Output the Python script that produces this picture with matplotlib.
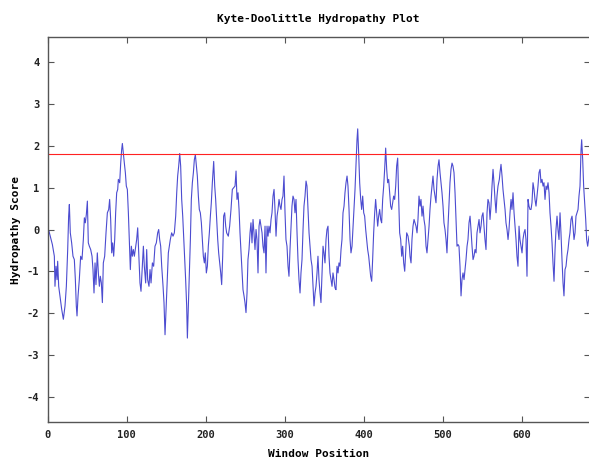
import matplotlib
matplotlib.use("Agg")
import matplotlib.pyplot as plt

# Window position (x) and hydropathy score (y)
window = [
    1.6, 5.9, 8.4, 9.2, 10.5, 11.8, 12.6, 13.9, 16.0, 17.7, 19.8, 21.9, 23.6, 25.3, 26.5, 27.4,
    28.6, 30.3, 32.0, 33.7, 35.0, 36.2, 37.1, 38.4, 40.0, 41.7, 43.4, 45.1, 46.4, 47.6, 48.9, 50.2,
    51.4, 52.7, 54.4, 56.1, 57.3, 58.6, 59.9, 61.1, 62.8, 64.1, 65.4, 66.6, 67.9, 69.2, 70.4, 72.1,
    73.8, 75.5, 77.2, 78.4, 79.7, 81.0, 82.2, 83.5, 84.8, 86.0, 87.3, 88.6, 89.4, 91.1, 92.4, 93.6,
    94.5, 95.7, 97.0, 98.3, 99.5, 100.8, 102.1, 103.3, 104.6, 105.9, 107.1, 108.4, 109.7, 111.4,
    # 112 - 227
    112.6, 113.9, 115.6, 116.8, 118.1, 119.8, 121.1, 122.3, 124.0, 125.3, 126.5, 128.2, 129.5, 130.8,
    132.5, 134.1, 135.8, 137.5, 139.2, 140.5, 141.7, 143.0, 144.3, 146.0, 147.2, 148.5, 149.7, 151.0,
    152.7, 154.0, 155.2, 156.9, 158.6, 160.3, 162.0, 163.3, 164.5, 165.8, 167.1, 168.3, 169.6, 170.9,
    172.1, 173.4, 174.6, 175.9, 176.8, 178.0, 179.3, 180.6, 181.8, 183.1, 184.4, 185.6, 186.9, 188.2,
    189.4, 190.7, 191.9, 193.2, 194.5, 195.7, 197.0, 198.3, 199.5, 200.8, 202.1, 203.3, 204.6, 205.9,
    207.1, 208.4, 210.1, 211.4, 212.6, 213.9, 215.2, 216.4, 217.7, 219.0, 220.2, 221.5, 222.7, 224.0,
    225.3, 226.5,
    # 228 - 341
    228.6, 230.3, 232.0, 233.7, 235.4, 237.1, 238.4, 239.6, 240.9, 242.2, 243.4, 244.7, 245.9, 247.2,
    248.5, 249.7, 251.0, 252.3, 253.5, 254.8, 256.1, 257.3, 258.6, 259.9, 261.1, 262.4, 263.7, 264.9,
    266.2, 267.5, 268.7, 270.0, 271.3, 272.5, 273.8, 275.1, 276.3, 277.6, 278.9, 280.1, 281.4, 282.7,
    283.9, 285.2, 286.5, 287.7, 289.0, 290.3, 291.5, 292.8, 294.1, 295.3, 296.6, 297.8, 299.1, 300.4,
    301.6, 302.9, 304.2, 305.4, 306.7, 308.0, 309.2, 310.5, 311.8, 313.0, 314.3, 315.6, 316.8, 318.1,
    319.4, 320.6, 321.9, 323.2, 324.4, 325.7, 327.0, 328.2, 329.5, 330.8, 332.0, 333.3, 334.6, 335.8,
    337.1, 338.4, 339.6, 340.9,
    # 342 - 458
    342.1, 343.4, 344.7, 345.9, 347.2, 348.5, 349.7, 351.0, 352.3, 353.5, 354.8, 356.1, 357.3, 358.6,
    359.9, 361.1, 362.4, 363.7, 364.9, 366.2, 367.5, 368.7, 370.0, 371.3, 372.5, 373.8, 375.1, 376.3,
    377.6, 378.9, 380.1, 381.4, 382.7, 383.9, 385.2, 386.5, 387.7, 389.0, 390.2, 391.5, 392.4, 393.6,
    394.9, 396.2, 397.4, 398.7, 400.0, 401.2, 402.5, 403.8, 405.0, 406.3, 407.5, 408.8, 410.1, 411.3,
    412.6, 413.9, 415.1, 416.4, 417.7, 418.9, 420.2, 421.5, 422.7, 424.0, 425.3, 426.5, 427.8, 429.1,
    430.3, 431.6, 432.9, 434.1, 435.4, 436.7, 437.9, 439.2, 440.5, 441.7, 443.0, 444.3, 445.5, 446.8,
    448.1, 449.3, 450.6, 451.9, 453.1, 454.4, 456.1, 457.8,
    # 458 - 572
    458.6, 459.9, 461.1, 462.4, 463.7, 464.9, 466.2, 467.5, 468.7, 470.0, 471.3, 472.5, 473.8, 475.1,
    476.3, 477.6, 478.9, 480.1, 481.4, 482.7, 483.9, 485.2, 486.5, 487.7, 489.0, 490.3, 491.5, 492.8,
    494.1, 495.3, 496.6, 497.8, 499.1, 500.4, 501.6, 502.9, 504.2, 505.4, 506.7, 508.0, 509.2, 510.5,
    511.8, 513.0, 514.3, 515.6, 516.8, 518.1, 519.4, 520.6, 521.9, 523.2, 524.4, 525.7, 527.0, 528.2,
    529.5, 530.8, 532.0, 533.3, 534.6, 535.8, 537.1, 538.4, 539.6, 540.9, 542.2, 543.4, 544.7, 546.0,
    547.2, 548.5, 549.7, 551.0, 552.3, 553.5, 554.8, 556.1, 557.3, 558.6, 559.9, 561.1, 562.4, 563.7,
    564.9, 566.2, 567.5, 568.7, 570.0, 571.7,
    # 572 - end
    572.5, 573.8, 575.1, 576.3, 577.6, 578.9, 580.1, 581.4, 582.7, 583.9, 585.2, 586.5, 587.7, 589.0,
    590.3, 591.5, 592.8, 594.0, 595.3, 596.6, 597.8, 599.1, 600.4, 601.6, 602.9, 604.2, 605.4, 606.7,
    608.0, 609.2, 610.5, 611.8, 613.0, 614.3, 615.6, 616.8, 618.1, 619.4, 620.6, 621.9, 623.2, 624.4,
    625.7, 627.0, 628.2, 629.5, 630.8, 632.0, 633.3, 634.6, 635.8, 637.1, 638.4, 639.6, 640.9, 642.2,
    643.4, 644.7, 645.9, 647.2, 648.5, 649.7, 651.0, 652.3, 653.5, 654.8, 656.1, 657.3, 658.6, 659.9,
    661.1, 662.4, 663.7, 664.9, 666.2, 667.5, 668.7, 670.0, 671.3, 672.5, 673.8, 675.1, 675.9, 677.2,
    678.4, 679.7, 681.0, 682.2, 683.5, 685.2,
]

score = [
    -0.04, -0.36, -0.64, -1.36, -0.88, -1.2, -0.76, -1.36, -1.67, -1.91, -2.15, -1.83, -1.36, -0.48, 0.32, 0.6,
    -0.08, -0.32, -0.64, -0.72, -1.2, -1.83, -2.07, -1.59, -1.2, -0.64, -0.72, -0.24, 0.28, 0.16, 0.36, 0.68,
    -0.32, -0.4, -0.48, -0.64, -0.96, -1.52, -0.8, -1.32, -0.56, -1.04, -1.36, -1.12, -1.28, -1.75, -0.8, -0.64,
    -0.08, 0.4, 0.48, 0.72, 0.24, -0.56, -0.32, -0.64, -0.24, 0.4, 0.88, 0.96, 1.2, 1.12, 1.59, 1.91,
    2.06, 1.83, 1.59, 1.36, 1.04, 0.96, 0.4, -0.24, -0.96, -0.4, -0.64, -0.48, -0.64, -0.4,
    # 112 - 227
    -0.24, 0.04, -0.72, -1.28, -1.48, -0.88, -0.4, -0.88, -1.28, -0.48, -1.2, -1.36, -0.96, -1.28,
    -0.8, -0.88, -0.4, -0.32, -0.08, 0.0, -0.24, -0.4, -0.88, -1.36, -1.75, -2.52, -1.99, -1.36,
    -0.56, -0.4, -0.24, -0.08, -0.16, -0.08, 0.32, 0.88, 1.28, 1.52, 1.82, 1.52, 0.72, 0.32,
    -0.16, -0.72, -1.2, -1.83, -2.6, -1.83, -1.04, -0.24, 0.72, 1.12, 1.36, 1.67, 1.79, 1.52,
    1.28, 0.8, 0.48, 0.4, 0.16, -0.24, -0.64, -0.8, -0.56, -1.04, -0.88, -0.4, -0.08, 0.32,
    0.64, 1.12, 1.63, 1.04, 0.72, 0.24, -0.24, -0.56, -0.8, -1.04, -1.32, -0.64, 0.32, 0.4,
    0.08, -0.08,
    # 228 - 341
    -0.16, 0.08, 0.48, 0.96, 1.0, 1.04, 1.4, 0.72, 0.88, 0.48, -0.08, -0.56, -1.04, -1.44,
    -1.59, -1.75, -1.99, -1.52, -0.72, -0.48, -0.08, 0.16, -0.32, 0.24, -0.08, -0.48, 0.0, -0.24,
    -1.04, 0.08, 0.24, 0.08, -0.08, -0.4, -0.56, 0.08, -1.04, 0.08, -0.16, 0.08, -0.08, 0.24,
    0.4, 0.8, 0.96, 0.48, -0.16, 0.32, 0.48, 0.72, 0.56, 0.48, 0.72, 0.8, 1.28, 0.4,
    -0.24, -0.4, -0.88, -1.12, -0.48, 0.08, 0.56, 0.8, 0.72, 0.4, 0.72, -0.08, -0.72, -1.2,
    -1.52, -1.04, -0.72, 0.0, 0.56, 0.8, 1.16, 1.04, 0.48, -0.08, -0.4, -0.72, -0.88, -1.36,
    -1.83, -1.52, -1.36, -1.04,
    # 342 - 458
    -0.64, -1.2, -1.52, -1.75, -1.04, -0.4, -0.56, -0.8, -0.24, 0.0, 0.08, -0.64, -1.04, -1.2,
    -1.36, -1.04, -1.2, -1.4, -1.44, -0.88, -1.04, -0.8, -0.88, -0.48, -0.24, 0.4, 0.56, 0.88,
    1.12, 1.28, 1.04, 0.48, -0.24, -0.56, -0.4, 0.08, 0.56, 0.96, 1.52, 2.15, 2.41, 1.83,
    1.12, 0.72, 0.48, 0.8, 0.4, 0.32, 0.0, -0.24, -0.48, -0.64, -0.88, -1.12, -1.24, -0.72,
    -0.08, 0.4, 0.72, 0.4, 0.08, 0.32, 0.48, 0.24, 0.16, 0.72, 1.04, 1.44, 1.95, 1.44,
    1.12, 1.2, 0.88, 0.56, 0.48, 0.64, 0.8, 0.72, 1.04, 1.52, 1.71, 0.72, -0.08, -0.24,
    -0.64, -0.4, -0.8, -1.0, -0.56, -0.08, -0.16, -0.4,
    # 458 - 572
    -0.64, -0.8, -0.24, 0.08, 0.24, 0.16, 0.08, -0.08, 0.24, 0.8, 0.56, 0.72, 0.32, 0.56,
    0.24, 0.08, -0.4, -0.56, -0.24, 0.08, 0.48, 0.8, 1.04, 1.28, 0.96, 0.8, 0.64, 1.2,
    1.52, 1.67, 1.36, 1.12, 0.88, 0.56, 0.16, 0.0, -0.24, -0.56, 0.08, 0.64, 1.12, 1.44,
    1.59, 1.52, 1.36, 0.88, 0.24, -0.4, -0.36, -0.4, -0.88, -1.59, -1.2, -1.04, -1.2, -0.96,
    -0.72, -0.4, -0.24, 0.16, 0.32, 0.0, -0.4, -0.72, -0.64, -0.48, -0.56, -0.08, 0.08, 0.24,
    -0.08, 0.08, 0.32, 0.4, 0.08, -0.24, -0.48, 0.4, 0.72, 0.64, 0.24, 0.56, 1.04, 1.44,
    1.12, 0.72, 0.4, 0.8, 1.04, 1.2,
    # 572 - end
    1.36, 1.56, 1.28, 0.96, 0.72, 0.48, 0.16, 0.0, -0.24, 0.0, 0.4, 0.72, 0.48, 0.88,
    0.4, 0.08, -0.24, -0.64, -0.88, 0.08, -0.24, -0.4, -0.56, -0.24, -0.08, 0.0, -0.24, -1.12,
    0.72, 0.56, 0.48, 0.48, 0.64, 1.12, 0.96, 0.72, 0.56, 0.8, 1.04, 1.36, 1.44, 1.12,
    1.2, 1.04, 1.12, 0.72, 1.04, 0.96, 1.12, 0.88, 0.4, 0.08, -0.32, -0.8, -1.24, -0.48,
    0.0, 0.32, 0.0, -0.24, 0.4, -0.08, -0.72, -1.28, -1.59, -0.96, -0.88, -0.64, -0.48, -0.24,
    -0.08, 0.24, 0.32, 0.08, -0.24, -0.08, 0.32, 0.4, 0.48, 0.8, 1.04, 1.91, 2.15, 1.67,
    1.04, 0.64, 0.24, -0.24, -0.4, -0.16,
]

threshold = 1.8          # transmembrane cutoff line
x_ticks = [0, 100, 200, 300, 400, 500, 600]
y_ticks = [-4, -3, -2, -1, 0, 1, 2, 3, 4]

assert len(window) == len(score), (len(window), len(score))

plt.rcParams["font.family"] = "DejaVu Sans Mono"
plt.rcParams["font.weight"] = "bold"
plt.rcParams["font.size"] = 7.5
plt.rcParams["axes.unicode_minus"] = False

fig = plt.figure(figsize=(5.89, 4.59), dpi=100)
ax = fig.add_axes([0.081, 0.0806, 0.9201, 0.8388])

ax.plot(window, score, color="#4c4cd0", lw=0.8)
ax.axhline(threshold, color="#ff2222", lw=0.8)

ax.set_xlim(0, 686)
ax.set_ylim(-4.61, 4.61)
ax.set_xticks(x_ticks)
ax.set_yticks(y_ticks)
ax.tick_params(direction="in", length=4, width=0.8, top=True, right=True,
               colors="#555555", labelcolor="#222222", pad=6)
for s in ax.spines.values():
    s.set_color("#555555")
    s.set_linewidth(1.0)

ax.set_title("Kyte-Doolittle Hydropathy Plot", fontsize=8, fontweight="bold", pad=11)
ax.set_xlabel("Window Position", fontsize=8, fontweight="bold", labelpad=6)
ax.set_ylabel("Hydropathy Score", fontsize=8, fontweight="bold", labelpad=4.5)

fig.savefig("out.png", dpi=100)
